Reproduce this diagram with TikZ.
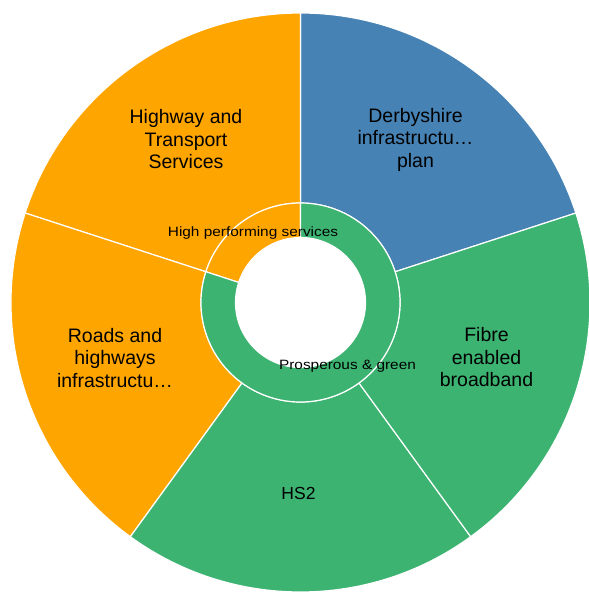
\documentclass[tikz,border=0pt]{standalone}
\usepackage{fontspec}
\setmainfont{Liberation Sans}
\newfontfamily\smallf[FakeStretch=1.14]{Liberation Sans}
\definecolor{sblue}{HTML}{4682B4}
\definecolor{sgreen}{HTML}{3CB371}
\definecolor{sorange}{HTML}{FFA500}
\tikzset{
  seg/.style={draw=white, line width=1.2pt},
  biglabel/.style={inner sep=0pt, align=center, font=\fontsize{19.5}{22.5}\selectfont},
  smalllabel/.style={inner sep=0pt, anchor=base, font=\smallf\fontsize{13.5}{15}\selectfont}
}
\begin{document}
\begin{tikzpicture}[x=1pt,y=1pt]
\useasboundingbox (0,0) rectangle (589,592);
\def\Ro{289.5}
\def\Ri{99.5}
\def\Rh{65}
\begin{scope}[shift={(300.5,289.5)}]
  % outer ring
  \fill[sblue,seg] (18:\Ro) arc[start angle=18,end angle=90,radius=\Ro] -- (90:\Ri) arc[start angle=90,end angle=18,radius=\Ri] -- cycle;
  \fill[sorange,seg] (90:\Ro) arc[start angle=90,end angle=162,radius=\Ro] -- (162:\Ri) arc[start angle=162,end angle=90,radius=\Ri] -- cycle;
  \fill[sorange,seg] (162:\Ro) arc[start angle=162,end angle=234,radius=\Ro] -- (234:\Ri) arc[start angle=234,end angle=162,radius=\Ri] -- cycle;
  \fill[sgreen,seg] (234:\Ro) arc[start angle=234,end angle=306,radius=\Ro] -- (306:\Ri) arc[start angle=306,end angle=234,radius=\Ri] -- cycle;
  \fill[sgreen,seg] (306:\Ro) arc[start angle=306,end angle=378,radius=\Ro] -- (378:\Ri) arc[start angle=378,end angle=306,radius=\Ri] -- cycle;
  % inner ring
  \fill[sorange,seg] (90:\Ri) arc[start angle=90,end angle=162,radius=\Ri] -- (162:\Rh) arc[start angle=162,end angle=90,radius=\Rh] -- cycle;
  \fill[sgreen,seg] (162:\Ri) arc[start angle=162,end angle=450,radius=\Ri] -- (450:\Rh) arc[start angle=450,end angle=162,radius=\Rh] -- cycle;
  \fill[white] (0,0) circle[radius=\Rh-0.6];
\end{scope}
% labels
\node[biglabel] (derby) at (415.5,452.3) {Derbyshire\\infrastructu…\\plan};
\node[biglabel] (highway) at (186,452.8) {Highway and\\Transport\\Services};
\node[biglabel] (fibre) at (486.5,234.5) {Fibre\\enabled\\broadband};
\node[biglabel] (roads) at (115,234) {Roads and\\highways\\infrastructu…};
\node[inner sep=0pt, anchor=base, font=\fontsize{17.5}{20}\selectfont] (hs2) at (298.5,92.7) {HS2};
\node[smalllabel] (hps) at (253,355.7) {High performing services};
\node[smalllabel] (pg) at (347.5,222.3) {Prosperous \& green};
\end{tikzpicture}
\end{document}
